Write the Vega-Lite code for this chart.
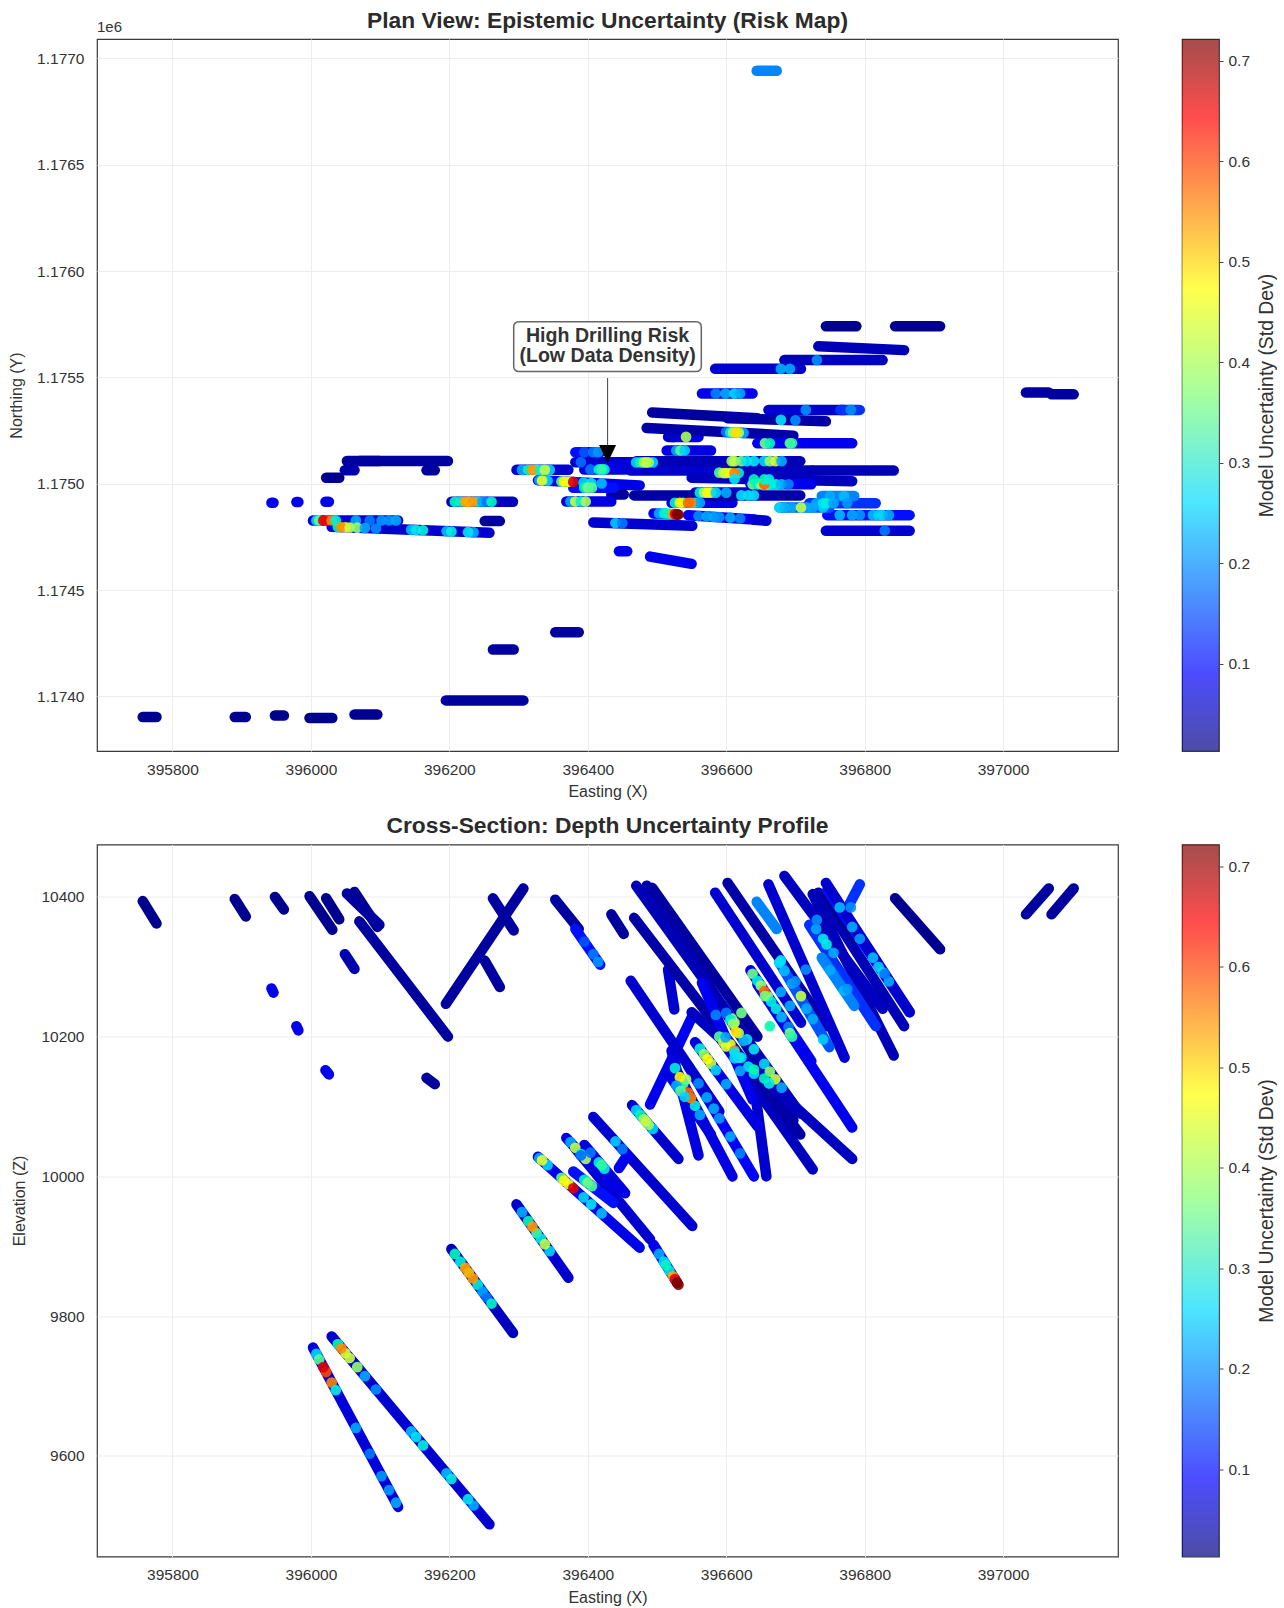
{"$schema":"https://vega.github.io/schema/vega-lite/v6.json","padding":{"left":7,"top":9,"right":0,"bottom":0},"background":"white",
"config":{"font":"Liberation Sans","view":{"stroke":"#3a3a3a","strokeWidth":1.2},"axis":{"labelFont":"Liberation Sans","titleFont":"Liberation Sans","labelColor":"#333333","titleColor":"#333333","labelFontSize":15.5,"titleFontSize":16,"titleFontWeight":"normal","gridColor":"#ececec","gridWidth":1,"domain":false,"ticks":false,"labelPadding":11}},
"datasets":{"holes":[
{"h":1,"E":395757,"N":1173903,"Z":10394,"u":0.02},{"h":1,"E":395777,"N":1173903,"Z":10362,"u":0.02},
{"h":2,"E":395890,"N":1173903,"Z":10397,"u":0.02},{"h":2,"E":395906,"N":1173903,"Z":10372,"u":0.02},
{"h":3,"E":395948,"N":1173910,"Z":10400,"u":0.02},{"h":3,"E":395961,"N":1173910,"Z":10382,"u":0.02},
{"h":4,"E":395998,"N":1173898,"Z":10401,"u":0.02},{"h":4,"E":396031,"N":1173898,"Z":10353,"u":0.02},
{"h":5,"E":396063,"N":1173915,"Z":10407,"u":0.02},{"h":5,"E":396096,"N":1173915,"Z":10357,"u":0.02},
{"h":6,"E":396195,"N":1173981,"Z":10247,"u":0.03},{"h":6,"E":396307,"N":1173981,"Z":10412,"u":0.03},
{"h":7,"E":396263,"N":1174220,"Z":10398,"u":0.03},{"h":7,"E":396293,"N":1174220,"Z":10352,"u":0.03},
{"h":8,"E":396353,"N":1174301,"Z":10396,"u":0.03},{"h":8,"E":396387,"N":1174301,"Z":10354,"u":0.03},
{"h":9,"E":396022,"N":1175028,"Z":10398,"u":0.02},{"h":9,"E":396041,"N":1175028,"Z":10368,"u":0.02},
{"h":10,"E":396049,"N":1175063,"Z":10318,"u":0.04},{"h":10,"E":396063,"N":1175063,"Z":10297,"u":0.04},
{"h":11,"E":396052,"N":1175107,"Z":10405,"u":0.03},{"h":11,"E":396099,"N":1175107,"Z":10360,"u":0.03},
{"h":12,"E":396070,"N":1175107,"Z":10365,"u":0.03},{"h":12,"E":396198,"N":1175107,"Z":10200,"u":0.03},
{"h":13,"E":396167,"N":1175063,"Z":10141,"u":0.03},{"h":13,"E":396179,"N":1175063,"Z":10132,"u":0.03},
{"h":14,"E":395943,"N":1174910,"Z":10269,"u":0.08},{"h":14,"E":395946,"N":1174910,"Z":10263,"u":0.08},
{"h":15,"E":395979,"N":1174914,"Z":10215,"u":0.08},{"h":15,"E":395982,"N":1174914,"Z":10209,"u":0.08},
{"h":16,"E":396021,"N":1174915,"Z":10152,"u":0.08},{"h":16,"E":396026,"N":1174915,"Z":10146,"u":0.08},
{"h":17,"E":396003,"N":1174827,"Z":9755,"u":0.065},{"h":17,"E":396126,"N":1174827,"Z":9527,"u":0.065},
{"h":18,"E":396030,"N":1174797,"Z":9771,"u":0.06},{"h":18,"E":396258,"N":1174769,"Z":9502,"u":0.06},
{"h":19,"E":396203,"N":1174915,"Z":9896,"u":0.05},{"h":19,"E":396292,"N":1174915,"Z":9776,"u":0.05},
{"h":70,"E":396251,"N":1174824,"Z":10309,"u":0.03},{"h":70,"E":396273,"N":1174824,"Z":10271,"u":0.03},
{"h":20,"E":396297,"N":1175065,"Z":9960,"u":0.06},{"h":20,"E":396372,"N":1175065,"Z":9855,"u":0.06},
{"h":21,"E":396328,"N":1175016,"Z":10028,"u":0.075},{"h":21,"E":396475,"N":1174992,"Z":9898,"u":0.075},
{"h":22,"E":396382,"N":1175148,"Z":10354,"u":0.09},{"h":22,"E":396418,"N":1175148,"Z":10303,"u":0.09},
{"h":23,"E":396434,"N":1174949,"Z":10375,"u":0.03},{"h":23,"E":396452,"N":1174949,"Z":10347,"u":0.03},
{"h":24,"E":396382,"N":1175101,"Z":10040,"u":0.06},{"h":24,"E":396490,"N":1175101,"Z":9910,"u":0.06},
{"h":25,"E":396464,"N":1175101,"Z":10102,"u":0.06},{"h":25,"E":396531,"N":1175101,"Z":10025,"u":0.06},
{"h":26,"E":396369,"N":1174916,"Z":10055,"u":0.07},{"h":26,"E":396434,"N":1174916,"Z":9985,"u":0.07},
{"h":27,"E":396395,"N":1175067,"Z":10045,"u":0.07},{"h":27,"E":396454,"N":1175067,"Z":9976,"u":0.07},
{"h":28,"E":396379,"N":1174981,"Z":10007,"u":0.09},{"h":28,"E":396437,"N":1174981,"Z":9962,"u":0.09},
{"h":29,"E":396408,"N":1174818,"Z":10085,"u":0.06},{"h":29,"E":396551,"N":1174802,"Z":9929,"u":0.06},
{"h":30,"E":396445,"N":1174682,"Z":10012,"u":0.08},{"h":30,"E":396457,"N":1174682,"Z":10030,"u":0.08},
{"h":31,"E":396490,"N":1174657,"Z":10103,"u":0.08},{"h":31,"E":396550,"N":1174623,"Z":10227,"u":0.08},
{"h":32,"E":396495,"N":1174860,"Z":9902,"u":0.08},{"h":32,"E":396529,"N":1174855,"Z":9848,"u":0.08},
{"h":33,"E":396545,"N":1174852,"Z":10158,"u":0.085},{"h":33,"E":396640,"N":1174832,"Z":10000,"u":0.085},
{"h":34,"E":396640,"N":1174830,"Z":10134,"u":0.06},{"h":34,"E":396658,"N":1174826,"Z":10000,"u":0.06},
{"h":35,"E":396521,"N":1175220,"Z":10180,"u":0.07},{"h":35,"E":396560,"N":1175220,"Z":10030,"u":0.07},
{"h":36,"E":396516,"N":1175220,"Z":10296,"u":0.06},{"h":36,"E":396525,"N":1175220,"Z":10239,"u":0.06},
{"h":37,"E":396521,"N":1174910,"Z":10165,"u":0.07},{"h":37,"E":396609,"N":1174910,"Z":10000,"u":0.07},
{"h":38,"E":396555,"N":1174958,"Z":10192,"u":0.07},{"h":38,"E":396645,"N":1174958,"Z":10072,"u":0.07},
{"h":39,"E":396462,"N":1175062,"Z":10280,"u":0.06},{"h":39,"E":396590,"N":1175062,"Z":10093,"u":0.06},
{"h":40,"E":396590,"N":1175062,"Z":10200,"u":0.05},{"h":40,"E":396725,"N":1175062,"Z":10010,"u":0.05},
{"h":41,"E":396725,"N":1175062,"Z":10404,"u":0.045},{"h":41,"E":396842,"N":1175062,"Z":10173,"u":0.045},
{"h":42,"E":396493,"N":1175335,"Z":10413,"u":0.03},{"h":42,"E":396645,"N":1175308,"Z":10200,"u":0.03},
{"h":43,"E":396602,"N":1175308,"Z":10420,"u":0.035},{"h":43,"E":396744,"N":1175293,"Z":10215,"u":0.035},
{"h":44,"E":396485,"N":1175262,"Z":10416,"u":0.035},{"h":44,"E":396697,"N":1175226,"Z":10080,"u":0.035},
{"h":45,"E":396470,"N":1175106,"Z":10416,"u":0.045},{"h":45,"E":396707,"N":1175106,"Z":10090,"u":0.045},
{"h":46,"E":396467,"N":1174945,"Z":10370,"u":0.035},{"h":46,"E":396707,"N":1174945,"Z":10060,"u":0.035},
{"h":47,"E":396550,"N":1175028,"Z":10235,"u":0.05},{"h":47,"E":396782,"N":1175012,"Z":10025,"u":0.05},
{"h":48,"E":396635,"N":1174997,"Z":10295,"u":0.08},{"h":48,"E":396723,"N":1174997,"Z":10165,"u":0.08},
{"h":49,"E":396645,"N":1175190,"Z":10275,"u":0.08},{"h":49,"E":396782,"N":1175190,"Z":10070,"u":0.08},
{"h":50,"E":396584,"N":1175540,"Z":10406,"u":0.06},{"h":50,"E":396708,"N":1175540,"Z":10220,"u":0.06},
{"h":51,"E":396565,"N":1175424,"Z":10277,"u":0.08},{"h":51,"E":396638,"N":1175424,"Z":10110,"u":0.08},
{"h":52,"E":396661,"N":1175347,"Z":10418,"u":0.06},{"h":52,"E":396771,"N":1175347,"Z":10170,"u":0.06},
{"h":53,"E":396765,"N":1175347,"Z":10365,"u":0.1},{"h":53,"E":396793,"N":1175347,"Z":10418,"u":0.1},
{"h":54,"E":396684,"N":1175581,"Z":10430,"u":0.05},{"h":54,"E":396826,"N":1175581,"Z":10240,"u":0.05},
{"h":55,"E":396733,"N":1175646,"Z":10406,"u":0.045},{"h":55,"E":396857,"N":1175628,"Z":10215,"u":0.045},
{"h":56,"E":396744,"N":1175740,"Z":10405,"u":0.02},{"h":56,"E":396788,"N":1175740,"Z":10340,"u":0.02},
{"h":57,"E":396844,"N":1175740,"Z":10398,"u":0.02},{"h":57,"E":396909,"N":1175740,"Z":10325,"u":0.02},
{"h":58,"E":396746,"N":1174852,"Z":10410,"u":0.09},{"h":58,"E":396865,"N":1174852,"Z":10235,"u":0.09},
{"h":59,"E":396744,"N":1174779,"Z":10420,"u":0.06},{"h":59,"E":396865,"N":1174779,"Z":10235,"u":0.06},
{"h":60,"E":396720,"N":1174908,"Z":10360,"u":0.1},{"h":60,"E":396816,"N":1174908,"Z":10215,"u":0.1},
{"h":61,"E":396677,"N":1174888,"Z":10306,"u":0.12},{"h":61,"E":396749,"N":1174888,"Z":10185,"u":0.12},
{"h":62,"E":396738,"N":1174942,"Z":10313,"u":0.16},{"h":62,"E":396785,"N":1174942,"Z":10244,"u":0.16},
{"h":63,"E":396644,"N":1176942,"Z":10393,"u":0.16},{"h":63,"E":396673,"N":1176942,"Z":10354,"u":0.16},
{"h":64,"E":397033,"N":1175429,"Z":10375,"u":0.03},{"h":64,"E":397066,"N":1175429,"Z":10412,"u":0.03},
{"h":65,"E":397070,"N":1175420,"Z":10375,"u":0.03},{"h":65,"E":397102,"N":1175420,"Z":10412,"u":0.03},
{"h":66,"E":396514,"N":1175156,"Z":10150,"u":0.07},{"h":66,"E":396578,"N":1175156,"Z":10060,"u":0.07}
],"spots":[
{"E":396008,"N":1174827,"Z":9746,"u":0.25},{"E":396012,"N":1174827,"Z":9738,"u":0.35},{"E":396022,"N":1174827,"Z":9720,"u":0.62},{"E":396018,"N":1174827,"Z":9727,"u":0.66},{"E":396030,"N":1174827,"Z":9705,"u":0.58},{"E":396036,"N":1174827,"Z":9694,"u":0.3},{"E":396065,"N":1174827,"Z":9640,"u":0.2},{"E":396085,"N":1174827,"Z":9603,"u":0.15},{"E":396102,"N":1174827,"Z":9571,"u":0.18},{"E":396113,"N":1174827,"Z":9551,"u":0.18},{"E":396123,"N":1174827,"Z":9533,"u":0.2},
{"E":396039,"N":1174796,"Z":9760,"u":0.33},{"E":396050,"N":1174795,"Z":9747,"u":0.45},{"E":396044,"N":1174796,"Z":9754,"u":0.57},{"E":396056,"N":1174794,"Z":9740,"u":0.43},{"E":396067,"N":1174793,"Z":9727,"u":0.38},{"E":396078,"N":1174791,"Z":9714,"u":0.2},{"E":396094,"N":1174789,"Z":9695,"u":0.17},{"E":396145,"N":1174783,"Z":9635,"u":0.22},{"E":396152,"N":1174782,"Z":9627,"u":0.28},{"E":396162,"N":1174781,"Z":9615,"u":0.3},{"E":396196,"N":1174776,"Z":9575,"u":0.22},{"E":396203,"N":1174775,"Z":9567,"u":0.3},{"E":396235,"N":1174771,"Z":9529,"u":0.2},{"E":396227,"N":1174772,"Z":9538,"u":0.28},
{"E":396208,"N":1174915,"Z":9889,"u":0.33},{"E":396216,"N":1174915,"Z":9878,"u":0.3},{"E":396241,"N":1174915,"Z":9845,"u":0.3},{"E":396228,"N":1174915,"Z":9862,"u":0.52},{"E":396223,"N":1174915,"Z":9869,"u":0.55},{"E":396234,"N":1174915,"Z":9854,"u":0.56},{"E":396248,"N":1174915,"Z":9835,"u":0.2},{"E":396254,"N":1174915,"Z":9827,"u":0.15},{"E":396261,"N":1174915,"Z":9818,"u":0.32},
{"E":396305,"N":1175065,"Z":9949,"u":0.2},{"E":396314,"N":1175065,"Z":9936,"u":0.33},{"E":396326,"N":1175065,"Z":9919,"u":0.35},{"E":396320,"N":1175065,"Z":9928,"u":0.56},{"E":396332,"N":1175065,"Z":9911,"u":0.3},{"E":396345,"N":1175065,"Z":9893,"u":0.25},{"E":396338,"N":1175065,"Z":9903,"u":0.42},
{"E":396330,"N":1175016,"Z":10026,"u":0.2},{"E":396342,"N":1175014,"Z":10016,"u":0.25},{"E":396334,"N":1175015,"Z":10023,"u":0.45},{"E":396362,"N":1175010,"Z":9998,"u":0.35},{"E":396366,"N":1175010,"Z":9994,"u":0.47},{"E":396372,"N":1175009,"Z":9989,"u":0.46},{"E":396379,"N":1175008,"Z":9983,"u":0.66},{"E":396394,"N":1175005,"Z":9970,"u":0.25},{"E":396405,"N":1175003,"Z":9960,"u":0.28},{"E":396420,"N":1175001,"Z":9947,"u":0.22},
{"E":396395,"N":1174981,"Z":9995,"u":0.32},{"E":396400,"N":1174981,"Z":9991,"u":0.36},{"E":396406,"N":1174981,"Z":9986,"u":0.35},
{"E":396375,"N":1174916,"Z":10049,"u":0.2},{"E":396382,"N":1174916,"Z":10041,"u":0.42},{"E":396390,"N":1174916,"Z":10032,"u":0.3},{"E":396397,"N":1174916,"Z":10025,"u":0.4},
{"E":396470,"N":1175100,"Z":10095,"u":0.25},{"E":396476,"N":1175100,"Z":10088,"u":0.33},{"E":396494,"N":1175100,"Z":10068,"u":0.25},{"E":396481,"N":1175100,"Z":10082,"u":0.38},{"E":396488,"N":1175100,"Z":10074,"u":0.38},{"E":396484,"N":1175100,"Z":10079,"u":0.42},
{"E":396390,"N":1175101,"Z":10030,"u":0.14},{"E":396404,"N":1175067,"Z":10034,"u":0.15},{"E":396416,"N":1175067,"Z":10020,"u":0.3},{"E":396424,"N":1175067,"Z":10011,"u":0.3},{"E":396420,"N":1175067,"Z":10016,"u":0.34},
{"E":396440,"N":1174815,"Z":10050,"u":0.24},{"E":396450,"N":1174814,"Z":10039,"u":0.15},
{"E":396503,"N":1174860,"Z":9889,"u":0.2},{"E":396510,"N":1174860,"Z":9878,"u":0.26},{"E":396518,"N":1174858,"Z":9865,"u":0.28},{"E":396513,"N":1174860,"Z":9873,"u":0.32},{"E":396523,"N":1174858,"Z":9857,"u":0.55},{"E":396526,"N":1174857,"Z":9853,"u":0.66},{"E":396529,"N":1174856,"Z":9848,"u":0.72},{"E":396531,"N":1174855,"Z":9845,"u":0.72},
{"E":396542,"N":1175220,"Z":10139,"u":0.4},
{"E":396526,"N":1174910,"Z":10155,"u":0.3},{"E":396538,"N":1174910,"Z":10133,"u":0.35},{"E":396533,"N":1174910,"Z":10142,"u":0.48},{"E":396555,"N":1174910,"Z":10101,"u":0.3},{"E":396562,"N":1174910,"Z":10088,"u":0.2},{"E":396549,"N":1174910,"Z":10112,"u":0.58},{"E":396545,"N":1174910,"Z":10120,"u":0.6},
{"E":396562,"N":1174958,"Z":10183,"u":0.3},{"E":396568,"N":1174958,"Z":10175,"u":0.38},{"E":396578,"N":1174958,"Z":10161,"u":0.42},{"E":396573,"N":1174958,"Z":10168,"u":0.47},{"E":396585,"N":1174958,"Z":10152,"u":0.25},{"E":396600,"N":1174958,"Z":10132,"u":0.2},
{"E":396622,"N":1174945,"Z":10170,"u":0.26},{"E":396632,"N":1174945,"Z":10157,"u":0.27},{"E":396640,"N":1174945,"Z":10147,"u":0.26},
{"E":396590,"N":1175052,"Z":10200,"u":0.35},{"E":396596,"N":1175050,"Z":10192,"u":0.42},{"E":396600,"N":1175050,"Z":10186,"u":0.44},{"E":396618,"N":1175050,"Z":10170,"u":0.3},{"E":396606,"N":1175050,"Z":10189,"u":0.46},{"E":396612,"N":1175050,"Z":10180,"u":0.58},
{"E":396608,"N":1175106,"Z":10226,"u":0.38},{"E":396612,"N":1175106,"Z":10220,"u":0.42},{"E":396622,"N":1175106,"Z":10234,"u":0.36},{"E":396630,"N":1175106,"Z":10196,"u":0.28},{"E":396640,"N":1175106,"Z":10182,"u":0.28},{"E":396655,"N":1175106,"Z":10161,"u":0.25},{"E":396663,"N":1175106,"Z":10150,"u":0.38},{"E":396671,"N":1175106,"Z":10139,"u":0.43},{"E":396680,"N":1175106,"Z":10127,"u":0.2},
{"E":396600,"N":1175243,"Z":10234,"u":0.15},{"E":396606,"N":1175241,"Z":10224,"u":0.3},{"E":396610,"N":1175241,"Z":10218,"u":0.38},{"E":396625,"N":1175238,"Z":10194,"u":0.2},{"E":396618,"N":1175240,"Z":10205,"u":0.4},{"E":396614,"N":1175241,"Z":10207,"u":0.5},
{"E":396638,"N":1174997,"Z":10290,"u":0.36},{"E":396645,"N":1174997,"Z":10280,"u":0.3},{"E":396650,"N":1174997,"Z":10273,"u":0.38},{"E":396660,"N":1174997,"Z":10258,"u":0.4},{"E":396665,"N":1174997,"Z":10250,"u":0.3},{"E":396672,"N":1174997,"Z":10240,"u":0.3},{"E":396680,"N":1174997,"Z":10228,"u":0.22},{"E":396690,"N":1174997,"Z":10214,"u":0.16},{"E":396655,"N":1174997,"Z":10265,"u":0.6},
{"E":396656,"N":1175190,"Z":10258,"u":0.36},{"E":396663,"N":1175190,"Z":10215,"u":0.33},{"E":396692,"N":1175190,"Z":10205,"u":0.36},{"E":396695,"N":1175190,"Z":10200,"u":0.34},
{"E":396640,"N":1175020,"Z":10153,"u":0.33},{"E":396655,"N":1175020,"Z":10140,"u":0.33},{"E":396662,"N":1175020,"Z":10133,"u":0.3},{"E":396612,"N":1175022,"Z":10178,"u":0.28},
{"E":396677,"N":1174888,"Z":10306,"u":0.27},{"E":396684,"N":1174888,"Z":10294,"u":0.22},{"E":396695,"N":1174888,"Z":10276,"u":0.2},{"E":396716,"N":1174888,"Z":10240,"u":0.2},{"E":396725,"N":1174888,"Z":10225,"u":0.2},{"E":396740,"N":1174888,"Z":10196,"u":0.24},{"E":396708,"N":1174888,"Z":10258,"u":0.42},
{"E":396750,"N":1174942,"Z":10295,"u":0.2},{"E":396770,"N":1174942,"Z":10266,"u":0.22},
{"E":396730,"N":1174908,"Z":10354,"u":0.2},{"E":396740,"N":1174908,"Z":10340,"u":0.28},{"E":396745,"N":1174908,"Z":10332,"u":0.3},{"E":396755,"N":1174908,"Z":10320,"u":0.2},{"E":396775,"N":1174908,"Z":10268,"u":0.18},
{"E":396764,"N":1174852,"Z":10385,"u":0.22},{"E":396782,"N":1174852,"Z":10357,"u":0.2},{"E":396793,"N":1174852,"Z":10340,"u":0.18},{"E":396812,"N":1174852,"Z":10313,"u":0.22},{"E":396820,"N":1174852,"Z":10300,"u":0.24},{"E":396826,"N":1174852,"Z":10292,"u":0.26},{"E":396835,"N":1174852,"Z":10279,"u":0.2},
{"E":396731,"N":1175581,"Z":10367,"u":0.17},{"E":396679,"N":1175540,"Z":10264,"u":0.2},{"E":396692,"N":1175540,"Z":10244,"u":0.2},
{"E":396585,"N":1175424,"Z":10231,"u":0.16},{"E":396599,"N":1175424,"Z":10199,"u":0.2},{"E":396612,"N":1175424,"Z":10169,"u":0.26},{"E":396620,"N":1175424,"Z":10151,"u":0.2},
{"E":396715,"N":1175347,"Z":10296,"u":0.17},{"E":396780,"N":1175347,"Z":10385,"u":0.17},
{"E":396679,"N":1175300,"Z":10309,"u":0.27},{"E":396700,"N":1175298,"Z":10279,"u":0.17},
{"E":396528,"N":1175156,"Z":10130,"u":0.2},{"E":396534,"N":1175156,"Z":10122,"u":0.35},{"E":396540,"N":1175156,"Z":10114,"u":0.25},
{"E":396395,"N":1175148,"Z":10336,"u":0.12},{"E":396408,"N":1175148,"Z":10318,"u":0.15},{"E":396415,"N":1175148,"Z":10307,"u":0.18},
{"E":396829,"N":1174779,"Z":10290,"u":0.15},
{"E":396560,"N":1174848,"Z":10133,"u":0.17},{"E":396572,"N":1174846,"Z":10113,"u":0.2},{"E":396582,"N":1174844,"Z":10097,"u":0.2},{"E":396590,"N":1174843,"Z":10083,"u":0.18},{"E":396606,"N":1174840,"Z":10057,"u":0.2},{"E":396620,"N":1174836,"Z":10033,"u":0.16}
],"box":[{"x0":396293,"x1":396564,"n0":1175527,"n1":1175762}],"arrow":[{"x":396428.6,"n0":1175497,"n1":1175150,"tip":1175140}],"note":[{"x":396428.6,"n":1175693,"t":"High Drilling Risk\n(Low Data Density)"}],"e6":[{"x":395691,"n":1177091,"t":"1e6"}],"bar":[{"lo":0.013,"hi":0.7214}]},
"spacing":12.5,
"vconcat":[
{"spacing":62,"hconcat":[
{"width":1021,"height":712,"title":{"text":"Plan View: Epistemic Uncertainty (Risk Map)","fontSize":22.8,"fontWeight":"bold","color":"#2b2b2b","offset":-13},
"layer":[
{"data":{"name":"holes"},"mark":{"type":"line","strokeWidth":10.5,"strokeCap":"round","clip":true},"encoding":{"x":{"field":"E","type":"quantitative","scale":{"domain":[395691,397166],"nice":false,"zero":false},"axis":{"values":[395800,396000,396200,396400,396600,396800,397000],"format":"d","title":"Easting (X)","titlePadding":6}},"y":{"field":"N","type":"quantitative","scale":{"domain":[1173743,1177091],"nice":false,"zero":false},"axis":{"values":[1174000,1174500,1175000,1175500,1176000,1176500,1177000],"labelExpr":"format(datum.value/1000000,'.4f')","title":"Northing (Y)","titlePadding":12,"labelPadding":13}},"detail":{"field":"h"},"order":{"field":"E"},"color":{"field":"u","type":"quantitative","legend":null,"scale":{"domain":[0.01,0.088,0.2585,0.365,0.4715,0.642,0.72],"range":["#00007f","#0000ff","#00dcff","#7fff77","#ffff00","#ff0000","#7f0000"]}}}},
{"data":{"name":"spots"},"mark":{"type":"circle","size":115,"opacity":0.9,"clip":true},"encoding":{"x":{"field":"E","type":"quantitative"},"y":{"field":"N","type":"quantitative"},"color":{"field":"u","type":"quantitative","legend":null}}},
{"data":{"name":"arrow"},"mark":{"type":"rule","color":"#555555","strokeWidth":1.1},"encoding":{"x":{"field":"x","type":"quantitative"},"y":{"field":"n0","type":"quantitative"},"y2":{"field":"n1"}}},
{"data":{"name":"arrow"},"mark":{"type":"point","filled":true,"color":"#000000","opacity":1,"size":289,"shape":"M-1,-1.06L1,-1.06L0,1.06Z"},"encoding":{"x":{"field":"x","type":"quantitative"},"y":{"field":"tip","type":"quantitative"}}},
{"data":{"name":"box"},"mark":{"type":"rect","fill":"white","stroke":"#666666","strokeWidth":1.5,"cornerRadius":5},"encoding":{"x":{"field":"x0","type":"quantitative"},"x2":{"field":"x1"},"y":{"field":"n0","type":"quantitative"},"y2":{"field":"n1"}}},
{"data":{"name":"note"},"mark":{"type":"text","lineBreak":"\n","fontSize":19.6,"fontWeight":"bold","color":"#333333","lineHeight":19.5,"align":"center","baseline":"middle"},"encoding":{"x":{"field":"x","type":"quantitative"},"y":{"field":"n","type":"quantitative"},"text":{"field":"t"}}},
{"data":{"name":"e6"},"mark":{"type":"text","align":"left","baseline":"bottom","dy":-4,"fontSize":15,"color":"#333333"},"encoding":{"x":{"field":"x","type":"quantitative"},"y":{"field":"n","type":"quantitative"},"text":{"field":"t"}}}
],"resolve":{"scale":{"color":"shared"}}},
{"width":37,"height":712,"data":{"name":"bar"},"mark":{"type":"rect","opacity":0.7,"fill":{"gradient":"linear","x1":0,"y1":1,"x2":0,"y2":0,"stops":[{"offset":0,"color":"#00007f"},{"offset":0.11,"color":"#0000ff"},{"offset":0.35,"color":"#00dcff"},{"offset":0.5,"color":"#7fff77"},{"offset":0.65,"color":"#ffff00"},{"offset":0.89,"color":"#ff0000"},{"offset":1,"color":"#7f0000"}]}},"encoding":{"y":{"field":"lo","type":"quantitative","scale":{"domain":[0.013,0.7214],"nice":false,"zero":false},"axis":{"orient":"right","values":[0.1,0.2,0.3,0.4,0.5,0.6,0.7],"format":".1f","grid":false,"ticks":true,"tickSize":4,"tickColor":"#444444","labelPadding":5,"title":"Model Uncertainty (Std Dev)","titleAngle":-90,"titlePadding":27,"titleFontSize":19.4}},"y2":{"field":"hi"}}}
]},
{"spacing":62,"hconcat":[
{"width":1021,"height":712,"title":{"text":"Cross-Section: Depth Uncertainty Profile","fontSize":22.8,"fontWeight":"bold","color":"#2b2b2b","offset":7},
"layer":[
{"data":{"name":"holes"},"mark":{"type":"line","strokeWidth":10.5,"strokeCap":"round","clip":true},"encoding":{"x":{"field":"E","type":"quantitative","scale":{"domain":[395691,397166],"nice":false,"zero":false},"axis":{"values":[395800,396000,396200,396400,396600,396800,397000],"format":"d","title":"Easting (X)","titlePadding":6}},"y":{"field":"Z","type":"quantitative","scale":{"domain":[9456,10475],"nice":false,"zero":false},"axis":{"values":[9600,9800,10000,10200,10400],"format":"d","title":"Elevation (Z)","titlePadding":13,"labelPadding":13}},"detail":{"field":"h"},"order":{"field":"E"},"color":{"field":"u","type":"quantitative","legend":null,"scale":{"domain":[0.01,0.088,0.2585,0.365,0.4715,0.642,0.72],"range":["#00007f","#0000ff","#00dcff","#7fff77","#ffff00","#ff0000","#7f0000"]}}}},
{"data":{"name":"spots"},"mark":{"type":"circle","size":115,"opacity":0.9,"clip":true},"encoding":{"x":{"field":"E","type":"quantitative"},"y":{"field":"Z","type":"quantitative"},"color":{"field":"u","type":"quantitative","legend":null}}}
]},
{"width":37,"height":712,"data":{"name":"bar"},"mark":{"type":"rect","opacity":0.7,"fill":{"gradient":"linear","x1":0,"y1":1,"x2":0,"y2":0,"stops":[{"offset":0,"color":"#00007f"},{"offset":0.11,"color":"#0000ff"},{"offset":0.35,"color":"#00dcff"},{"offset":0.5,"color":"#7fff77"},{"offset":0.65,"color":"#ffff00"},{"offset":0.89,"color":"#ff0000"},{"offset":1,"color":"#7f0000"}]}},"encoding":{"y":{"field":"lo","type":"quantitative","scale":{"domain":[0.013,0.7214],"nice":false,"zero":false},"axis":{"orient":"right","values":[0.1,0.2,0.3,0.4,0.5,0.6,0.7],"format":".1f","grid":false,"ticks":true,"tickSize":4,"tickColor":"#444444","labelPadding":5,"title":"Model Uncertainty (Std Dev)","titleAngle":-90,"titlePadding":27,"titleFontSize":19.4}},"y2":{"field":"hi"}}}
]}
]}
